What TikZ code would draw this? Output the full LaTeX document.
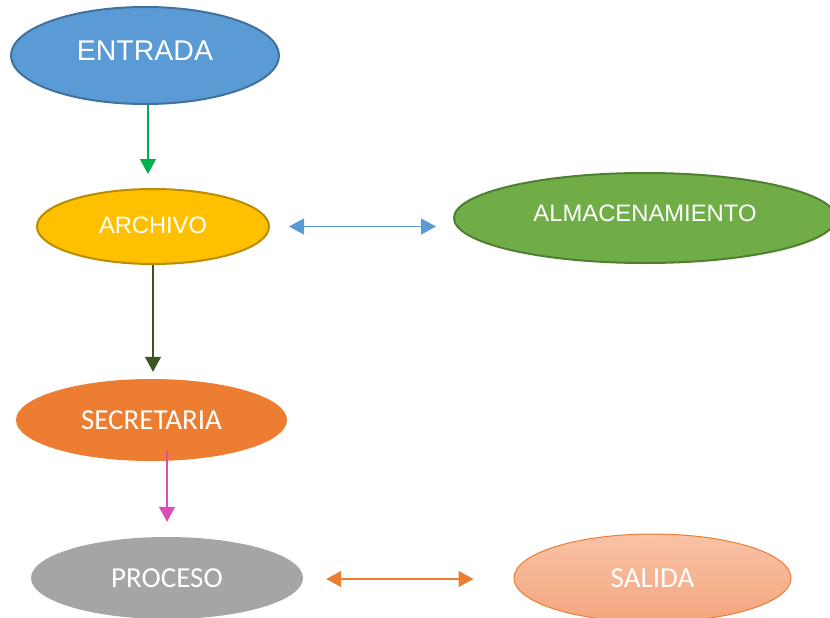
\documentclass[tikz,border=0pt]{standalone}
\usepackage{fontspec}
\setmainfont{Liberation Sans}
\newfontfamily\carlito{Carlito}
\usetikzlibrary{positioning,calc,arrows.meta,shapes.geometric}
\definecolor{azul}{HTML}{5B9BD5}
\definecolor{azulborde}{HTML}{41719C}
\definecolor{amarillo}{HTML}{FFC000}
\definecolor{amarilloborde}{HTML}{BC8C00}
\definecolor{verde}{HTML}{70AD47}
\definecolor{verdeborde}{HTML}{507E32}
\definecolor{naranja}{HTML}{ED7D31}
\definecolor{gris}{HTML}{A5A5A5}
\definecolor{salmonA}{HTML}{F8C2A6}
\definecolor{salmonB}{HTML}{F4A67E}
\definecolor{verdeflecha}{HTML}{00B050}
\definecolor{verdeoscuro}{HTML}{375623}
\definecolor{rosa}{HTML}{DA4DBA}
\tikzset{
	flecha/.style={-{Triangle[length=15pt,width=16pt]}, line width=1.2pt},
	dobleflecha/.style={{Triangle[length=15pt,width=16pt]}-{Triangle[length=15pt,width=16pt]}, line width=1.2pt}
}

\begin{document}
\begin{tikzpicture}[x=1pt,y=-1pt]
	\useasboundingbox (0,0) rectangle (830,618);
	\clip (0,0) rectangle (830,618);
	\begin{scope}
		\tikzstyle{every node}=[ellipse, align=center, inner sep=0pt, text=white]
		\node[fill=azul, draw=azulborde, line width=2pt, minimum width=268pt, minimum height=97pt, font=\fontsize{28.5}{30}\selectfont] (entrada) at (145, 55.5) {\raisebox{5pt}[\height][\depth]{ENTRADA}};
		\node[fill=amarillo, draw=amarilloborde, line width=2pt, minimum width=232pt, minimum height=75pt, font=\fontsize{23.7}{26}\selectfont] (archivo) at (153, 226.5) {\raisebox{1.5pt}[\height][\depth]{ARCHIVO}};
		\node[fill=verde, draw=verdeborde, line width=2pt, minimum width=382pt, minimum height=90pt, font=\fontsize{23.8}{26}\selectfont] (almacen) at (645, 218) {\raisebox{4.5pt}[\height][\depth]{ALMACENAMIENTO}};
		\node[fill=naranja, minimum width=271pt, minimum height=82pt, font=\carlito\fontsize{29}{31}\selectfont] (secretaria) at (151.5, 420) {SECRETARIA};
		\node[fill=gris, minimum width=272pt, minimum height=82pt, font=\carlito\fontsize{29}{31}\selectfont] (proceso) at (167, 578) {PROCESO};
		\node[top color=salmonA, bottom color=salmonB, draw=naranja, line width=1pt, minimum width=277pt, minimum height=88pt, font=\carlito\fontsize{29}{31}\selectfont] (salida) at (652.5, 578) {SALIDA};

		\draw[flecha, verdeflecha, shorten >=14pt] ([xshift=3pt]entrada.south) -- ([xshift=-5pt]archivo.north);
		\draw[dobleflecha, azul, shorten <=19pt, shorten >=17pt] (archivo.east) -- (archivo.east -| almacen.west);
		\draw[flecha, verdeoscuro, shorten >=7pt] (archivo.south) -- (archivo.south |- secretaria.north);
		\draw[flecha, rosa, shorten <=-10pt, shorten >=15pt] (secretaria.south -| proceso.north) -- (proceso.north);
		\draw[dobleflecha, naranja, shorten <=23pt, shorten >=40pt] ([yshift=-1pt]proceso.east) -- ([yshift=-1pt]salida.west);
	\end{scope}
\end{tikzpicture}
\end{document}
